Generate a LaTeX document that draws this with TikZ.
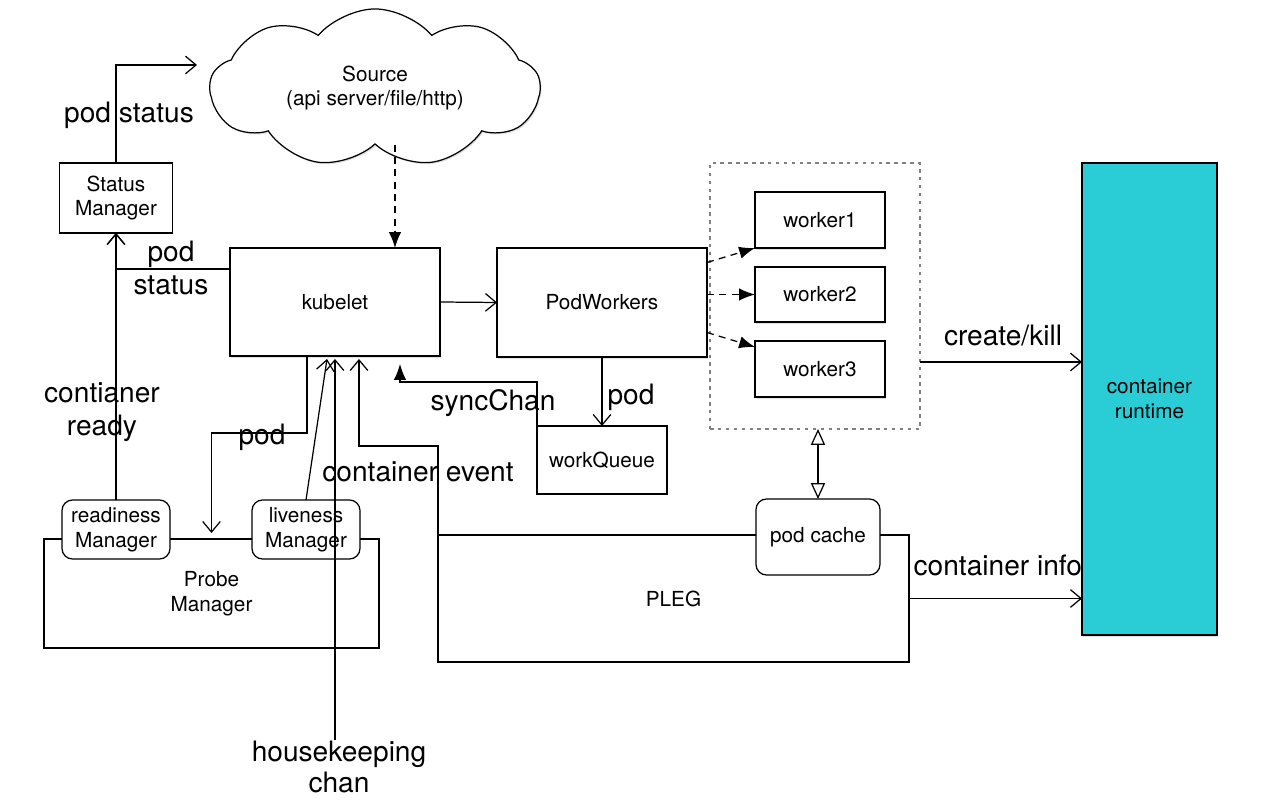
\documentclass[tikz,border=0pt]{standalone}
\usepackage{fontspec}
\setmainfont{TeX Gyre Heros}
\usetikzlibrary{arrows.meta,calc,shapes.symbols,shadows}
\definecolor{rtcyan}{RGB}{42,205,214}
\begin{document}
\begin{tikzpicture}[x=0.02cm,y=-0.02cm,
  line width=0.7pt,
  sm/.style={font=\fontsize{11.8}{14}\selectfont, align=center},
  lg/.style={font=\fontsize{16}{18.7}\selectfont, align=center, inner sep=0pt},
  box/.style={draw, fill=white, inner sep=0pt, outer sep=0pt, sm},
  shbox/.style={box, drop shadow={shadow xshift=0.7pt, shadow yshift=-0.9pt, opacity=0.25}},
  rbox/.style={box, rounded corners=6pt},
  arr/.style={-{Straight Barb[length=6pt,width=10pt]}},
  farr/.style={-{Latex[length=9pt,width=7pt]}},
  dash2/.style={dash pattern=on 4pt off 3pt}
]
\useasboundingbox (0,0) rectangle (1262,810);

% cloud
\node[cloud, cloud puffs=9, cloud puff arc=100, aspect=2.0, draw, fill=white,
      minimum width=6.6cm, minimum height=2.6cm, inner sep=0pt, sm,
      drop shadow={shadow xshift=0.7pt, shadow yshift=-0.9pt, opacity=0.25}]
      (cloud) at (375,88) {Source\\(api server/file/http)};

% boxes
\node[box, minimum width=113*0.02cm, minimum height=70*0.02cm] (sm) at (116,198) {Status\\Manager};
\node[shbox, minimum width=210*0.02cm, minimum height=108*0.02cm] (kb) at (335,302) {kubelet};
\node[shbox, minimum width=210*0.02cm, minimum height=109*0.02cm] (pw) at (602,302.5) {PodWorkers};
\node[box, minimum width=130*0.02cm, minimum height=68*0.02cm] (wq) at (602,460) {workQueue};

\node[draw=gray, dash pattern=on 2pt off 2.5pt, inner sep=0pt, outer sep=0pt,
      minimum width=210*0.02cm, minimum height=266*0.02cm] (dot) at (815,296) {};
\node[shbox, minimum width=130*0.02cm, minimum height=56*0.02cm] (w1) at (820,220) {worker1};
\node[shbox, minimum width=130*0.02cm, minimum height=55*0.02cm] (w2) at (820,294.5) {worker2};
\node[shbox, minimum width=130*0.02cm, minimum height=56*0.02cm] (w3) at (820,369) {worker3};

\node[box, minimum width=471*0.02cm, minimum height=127*0.02cm] (pleg) at (673.5,598.5) {PLEG};
\node[rbox, minimum width=124*0.02cm, minimum height=76*0.02cm] (pc) at (818,537) {pod cache};

\node[box, minimum width=335*0.02cm, minimum height=109*0.02cm] (pm) at (211.5,593.5) {Probe\\Manager};
\node[rbox, minimum width=108*0.02cm, minimum height=59*0.02cm] (rd) at (116,529.5) {readiness\\Manager};
\node[rbox, minimum width=108*0.02cm, minimum height=59*0.02cm] (lv) at (306,529.5) {liveness\\Manager};

% labels
\node[lg] (l1) at (129,115) {pod status};
\node[lg] (l2) at (171,268) {pod\\status};
\node[lg] (l3) at (102,412) {contianer\\ready};
\node[lg] (l4) at (262,437) {pod};
\node[lg] (l5) at (418,472) {container event};
\node[lg] (l6) at (493,403) {syncChan};
\node[lg] (l7) at (631,397) {pod};
\node[lg] (l8) at (1003,336) {create/kill};
\node[lg, anchor=west] (l9) at (913,565) {container info};
\node[lg, font=\fontsize{16}{17.6}\selectfont] (hk) at (339,767) {housekeeping\\chan};

% container runtime (drawn over the label end)
\node[box, fill=rtcyan, minimum width=135*0.02cm, minimum height=472*0.02cm,
      drop shadow={shadow xshift=0.7pt, shadow yshift=-0.9pt, opacity=0.25}]
      (rt) at (1149.5,399) {container\\runtime};

% connectors
\coordinate (sc) at (197,65);
\draw[arr] (sm.north) |- (sc);
\coordinate (kt) at (395,248);
\draw[dash2, farr] (kt |- cloud.south) -- (kt);
\draw[arr] (kb.east) -- (pw.west);
\draw[arr] (pw.south) -- (wq.north);
\draw[dash2, farr] ($(pw.east)+(0,-40)$) -- (w1.south west);
\draw[dash2, farr] (pw.east |- w2.west) -- (w2.west);
\draw[dash2, farr] ($(pw.east)+(0,30)$) -- ($(w3.north west)+(0,6)$);
\coordinate (ck) at ($(dot.east)+(0,66)$);
\draw[arr] (ck) -- (ck -| rt.west);
\draw[arr] (pleg.east) -- (pleg.east -| rt.west);
\draw[{Triangle[open,length=9pt,width=8pt]}-{Triangle[open,length=9pt,width=8pt]}] (pc.north |- dot.south) -- (pc.north);
\draw[farr] (wq.north west) -- ++(0,-44) -| ($(kb.south)+(65,8)$);
\draw[arr] ($(kb.south)+(-28,0)$) -- ++(0,77) -| ($(pm.north)+(0,-6)$);
\draw[arr] (lv.north) -- ($(kb.south)+(-8,3)$);
\draw[arr] (kb.south |- hk.north) -- ($(kb.south)+(0,3)$);
\draw[arr] (pleg.north west) -- ++(0,-89) -| ($(kb.south)+(24,3)$);
\draw[arr] ($(kb.north west)+(0,21)$) -| (sm.south);
\draw[arr] (rd.north) -- (sm.south);
\end{tikzpicture}
\end{document}
